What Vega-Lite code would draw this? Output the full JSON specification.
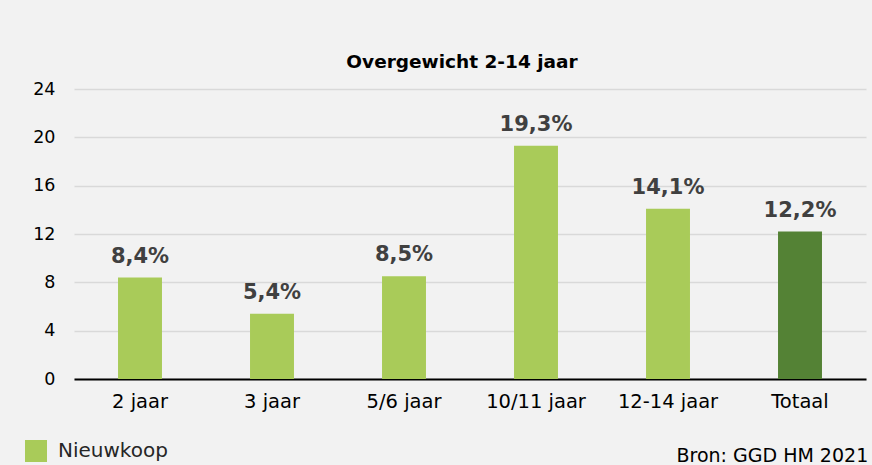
{
  "$schema": "https://vega.github.io/schema/vega-lite/v6.json",
  "width": 792,
  "height": 290,
  "autosize": {"type": "none"},
  "padding": {"left": 74, "top": 89, "right": 6, "bottom": 86},
  "background": "#f2f2f2",
  "config": {"view": {"stroke": null}},
  "title": {
    "text": "Overgewicht 2-14 jaar",
    "font": "DejaVu Sans",
    "fontSize": 18.5,
    "fontWeight": "bold",
    "color": "#000000",
    "anchor": "middle",
    "dx": -8,
    "offset": 9
  },
  "data": {
    "values": [
      {"leeftijd": "2 jaar", "percentage": 8.4, "label": "8,4%", "groep": "Nieuwkoop"},
      {"leeftijd": "3 jaar", "percentage": 5.4, "label": "5,4%", "groep": "Nieuwkoop"},
      {"leeftijd": "5/6 jaar", "percentage": 8.5, "label": "8,5%", "groep": "Nieuwkoop"},
      {"leeftijd": "10/11 jaar", "percentage": 19.3, "label": "19,3%", "groep": "Nieuwkoop"},
      {"leeftijd": "12-14 jaar", "percentage": 14.1, "label": "14,1%", "groep": "Nieuwkoop"},
      {"leeftijd": "Totaal", "percentage": 12.2, "label": "12,2%", "groep": "Totaal"}
    ]
  },
  "encoding": {
    "x": {
      "field": "leeftijd",
      "type": "nominal",
      "sort": null,
      "scale": {"paddingInner": 0.667, "paddingOuter": 0.3335},
      "axis": {
        "labelAngle": 0,
        "labelFont": "DejaVu Sans",
        "labelFontSize": 19.5,
        "labelColor": "#000000",
        "labelPadding": 13,
        "ticks": false,
        "grid": false,
        "domainColor": "#000000",
        "domainWidth": 2,
        "title": "Bron: GGD HM 2021",
        "titleFont": "DejaVu Sans",
        "titleFontSize": 19,
        "titleFontWeight": "normal",
        "titleColor": "#000000",
        "titleAlign": "left",
        "titleAnchor": "start",
        "titleBaseline": "middle",
        "titleX": 602,
        "titleY": 76
      }
    },
    "y": {
      "field": "percentage",
      "type": "quantitative",
      "scale": {"domain": [0, 24], "nice": false},
      "axis": {
        "title": null,
        "values": [0, 4, 8, 12, 16, 20, 24],
        "domain": false,
        "ticks": false,
        "grid": true,
        "gridColor": "#d9d9d9",
        "gridWidth": 1.5,
        "labelFont": "DejaVu Sans",
        "labelFontSize": 17.5,
        "labelColor": "#000000",
        "labelPadding": 19
      }
    }
  },
  "layer": [
    {
      "mark": {"type": "bar"},
      "encoding": {
        "color": {
          "field": "groep",
          "type": "nominal",
          "scale": {"domain": ["Nieuwkoop", "Totaal"], "range": ["#a9cb59", "#548235"]},
          "legend": {
            "orient": "none",
            "legendX": -49,
            "legendY": 351,
            "values": ["Nieuwkoop"],
            "title": null,
            "symbolType": "square",
            "symbolSize": 484,
            "symbolStrokeWidth": 0,
            "labelFont": "DejaVu Sans",
            "labelFontSize": 20,
            "labelColor": "#262626",
            "labelOffset": 11,
            "padding": 0
          }
        }
      }
    },
    {
      "mark": {
        "type": "text",
        "baseline": "alphabetic",
        "dy": -15,
        "font": "DejaVu Sans",
        "fontSize": 21,
        "fontWeight": "bold",
        "color": "#404040"
      },
      "encoding": {"text": {"field": "label"}}
    }
  ]
}
